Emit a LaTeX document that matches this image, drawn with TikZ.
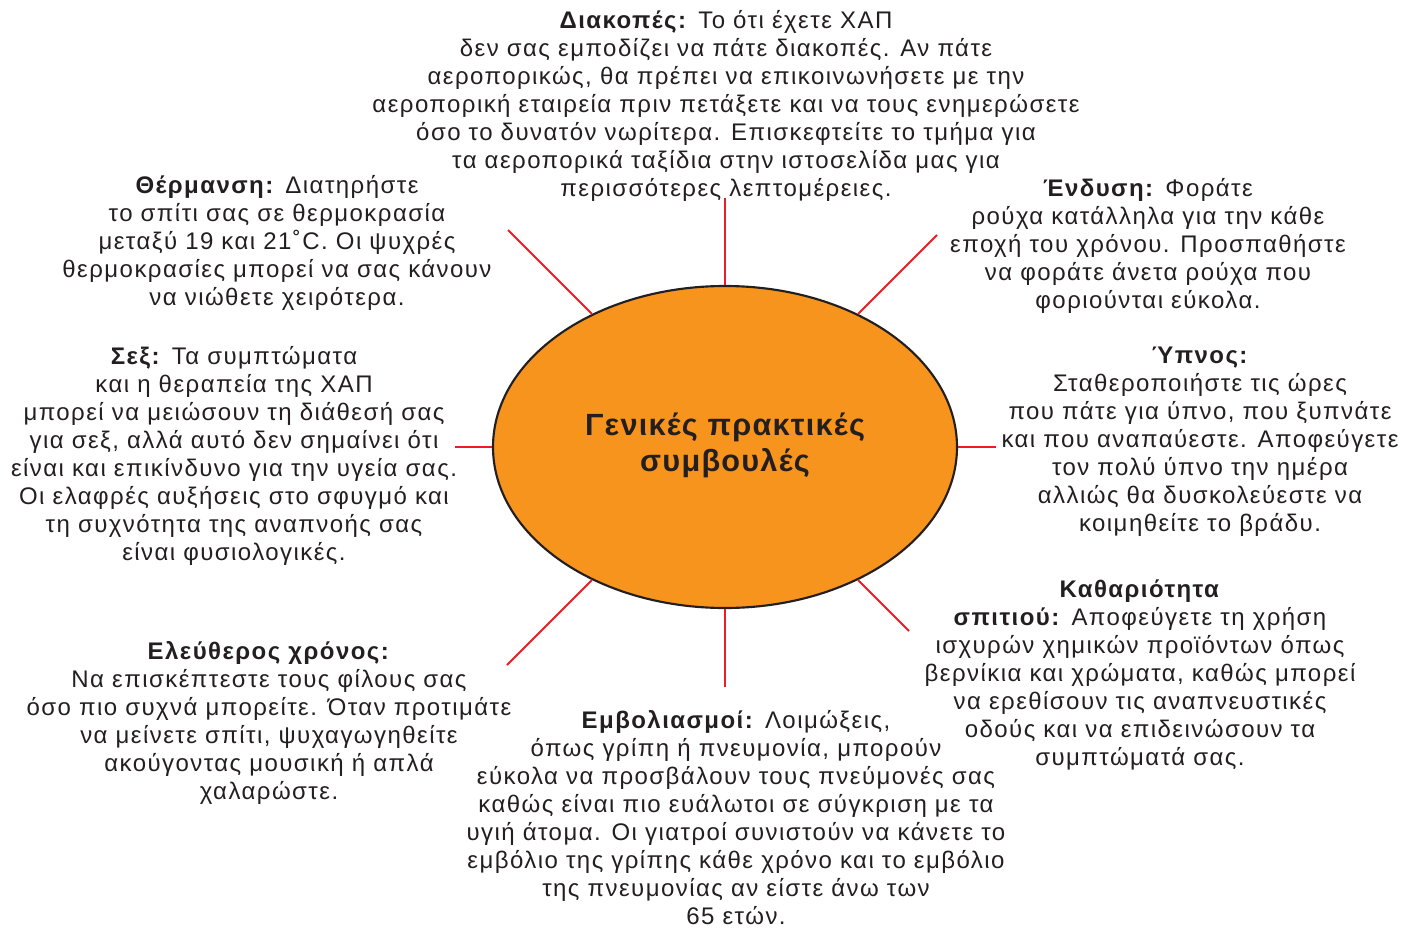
\documentclass[tikz,border=0pt]{standalone}
\usepackage{fontspec}
\setmainfont{Liberation Sans}
\newfontfamily\tipfont[LetterSpace=6]{Liberation Sans}
\newfontfamily\hubfont[LetterSpace=4]{Liberation Sans}
\usetikzlibrary{shapes.geometric}
\definecolor{txt}{HTML}{231F20}
\definecolor{orng}{HTML}{F7941D}
\definecolor{redl}{HTML}{ED1C24}
\tikzset{
  tip/.style={align=center, inner sep=0pt, text=txt, font=\tipfont\fontsize{18}{21}\selectfont},
  spoke/.style={draw=redl, line width=1.5pt},
  hub/.style={ellipse, draw=txt, line width=1.6pt, fill=orng, minimum width=464*0.75pt, minimum height=322*0.75pt, inner sep=0pt}
}
\begin{document}
\begin{tikzpicture}[x=0.75pt,y=-0.75pt]
\useasboundingbox (0,0) rectangle (1414,928);
\node[hub] (c) at (725,447) {};
\node[align=center, inner sep=0pt, text=txt, font=\hubfont\fontsize{23}{27}\selectfont\bfseries] (title) at (725,445) {Γενικές πρακτικές\\συμβουλές};

\coordinate (pT) at (725,198);
\coordinate (pTR) at (937,235);
\coordinate (pR) at (996,447);
\coordinate (pBR) at (909,631);
\coordinate (pB) at (725,687);
\coordinate (pBL) at (507,665);
\coordinate (pL) at (455,447);
\coordinate (pTL) at (508,230);

\draw[spoke] (c.north) -- (pT);
\draw[spoke] (c.45) -- (pTR);
\draw[spoke] (c.east) -- (pR);
\draw[spoke] (c.-45) -- (pBR);
\draw[spoke] (c.south) -- (pB);
\draw[spoke] (c.-135) -- (pBL);
\draw[spoke] (c.west) -- (pL);
\draw[spoke] (c.135) -- (pTL);

\node[tip] (diak) at (726,106) {\textbf{Διακοπές:} Το ότι έχετε ΧΑΠ\\
δεν σας εμποδίζει να πάτε διακοπές. Αν πάτε\\
αεροπορικώς, θα πρέπει να επικοινωνήσετε με την\\
αεροπορική εταιρεία πριν πετάξετε και να τους ενημερώσετε\\
όσο το δυνατόν νωρίτερα. Επισκεφτείτε το τμήμα για\\
τα αεροπορικά ταξίδια στην ιστοσελίδα μας για\\
περισσότερες λεπτομέρειες.};

\node[tip] (therm) at (277,243) {\textbf{Θέρμανση:} Διατηρήστε\\
το σπίτι σας σε θερμοκρασία\\
μεταξύ 19 και 21˚C. Οι ψυχρές\\
θερμοκρασίες μπορεί να σας κάνουν\\
να νιώθετε χειρότερα.};

\node[tip] (sex) at (234,456) {\textbf{Σεξ:} Τα συμπτώματα\\
και η θεραπεία της ΧΑΠ\\
μπορεί να μειώσουν τη διάθεσή σας\\
για σεξ, αλλά αυτό δεν σημαίνει ότι\\
είναι και επικίνδυνο για την υγεία σας.\\
Οι ελαφρές αυξήσεις στο σφυγμό και\\
τη συχνότητα της αναπνοής σας\\
είναι φυσιολογικές.};

\node[tip] (end) at (1148,246) {\textbf{Ένδυση:} Φοράτε\\
ρούχα κατάλληλα για την κάθε\\
εποχή του χρόνου. Προσπαθήστε\\
να φοράτε άνετα ρούχα που\\
φοριούνται εύκολα.};

\node[tip] (ypn) at (1200,442) {\textbf{Ύπνος:}\\
Σταθεροποιήστε τις ώρες\\
που πάτε για ύπνο, που ξυπνάτε\\
και που αναπαύεστε. Αποφεύγετε\\
τον πολύ ύπνο την ημέρα\\
αλλιώς θα δυσκολεύεστε να\\
κοιμηθείτε το βράδυ.};

\node[tip] (eley) at (269,723) {\textbf{Ελεύθερος χρόνος:}\\
Να επισκέπτεστε τους φίλους σας\\
όσο πιο συχνά μπορείτε. Όταν προτιμάτε\\
να μείνετε σπίτι, ψυχαγωγηθείτε\\
ακούγοντας μουσική ή απλά\\
χαλαρώστε.};

\node[tip] (emv) at (736,818) {\textbf{Εμβολιασμοί:} Λοιμώξεις,\\
όπως γρίπη ή πνευμονία, μπορούν\\
εύκολα να προσβάλουν τους πνεύμονές σας\\
καθώς είναι πιο ευάλωτοι σε σύγκριση με τα\\
υγιή άτομα. Οι γιατροί συνιστούν να κάνετε το\\
εμβόλιο της γρίπης κάθε χρόνο και το εμβόλιο\\
της πνευμονίας αν είστε άνω των\\
65 ετών.};

\node[tip] (kath) at (1140,675) {\textbf{Καθαριότητα}\\
\textbf{σπιτιού:} Αποφεύγετε τη χρήση\\
ισχυρών χημικών προϊόντων όπως\\
βερνίκια και χρώματα, καθώς μπορεί\\
να ερεθίσουν τις αναπνευστικές\\
οδούς και να επιδεινώσουν τα\\
συμπτώματά σας.};
\end{tikzpicture}
\end{document}
